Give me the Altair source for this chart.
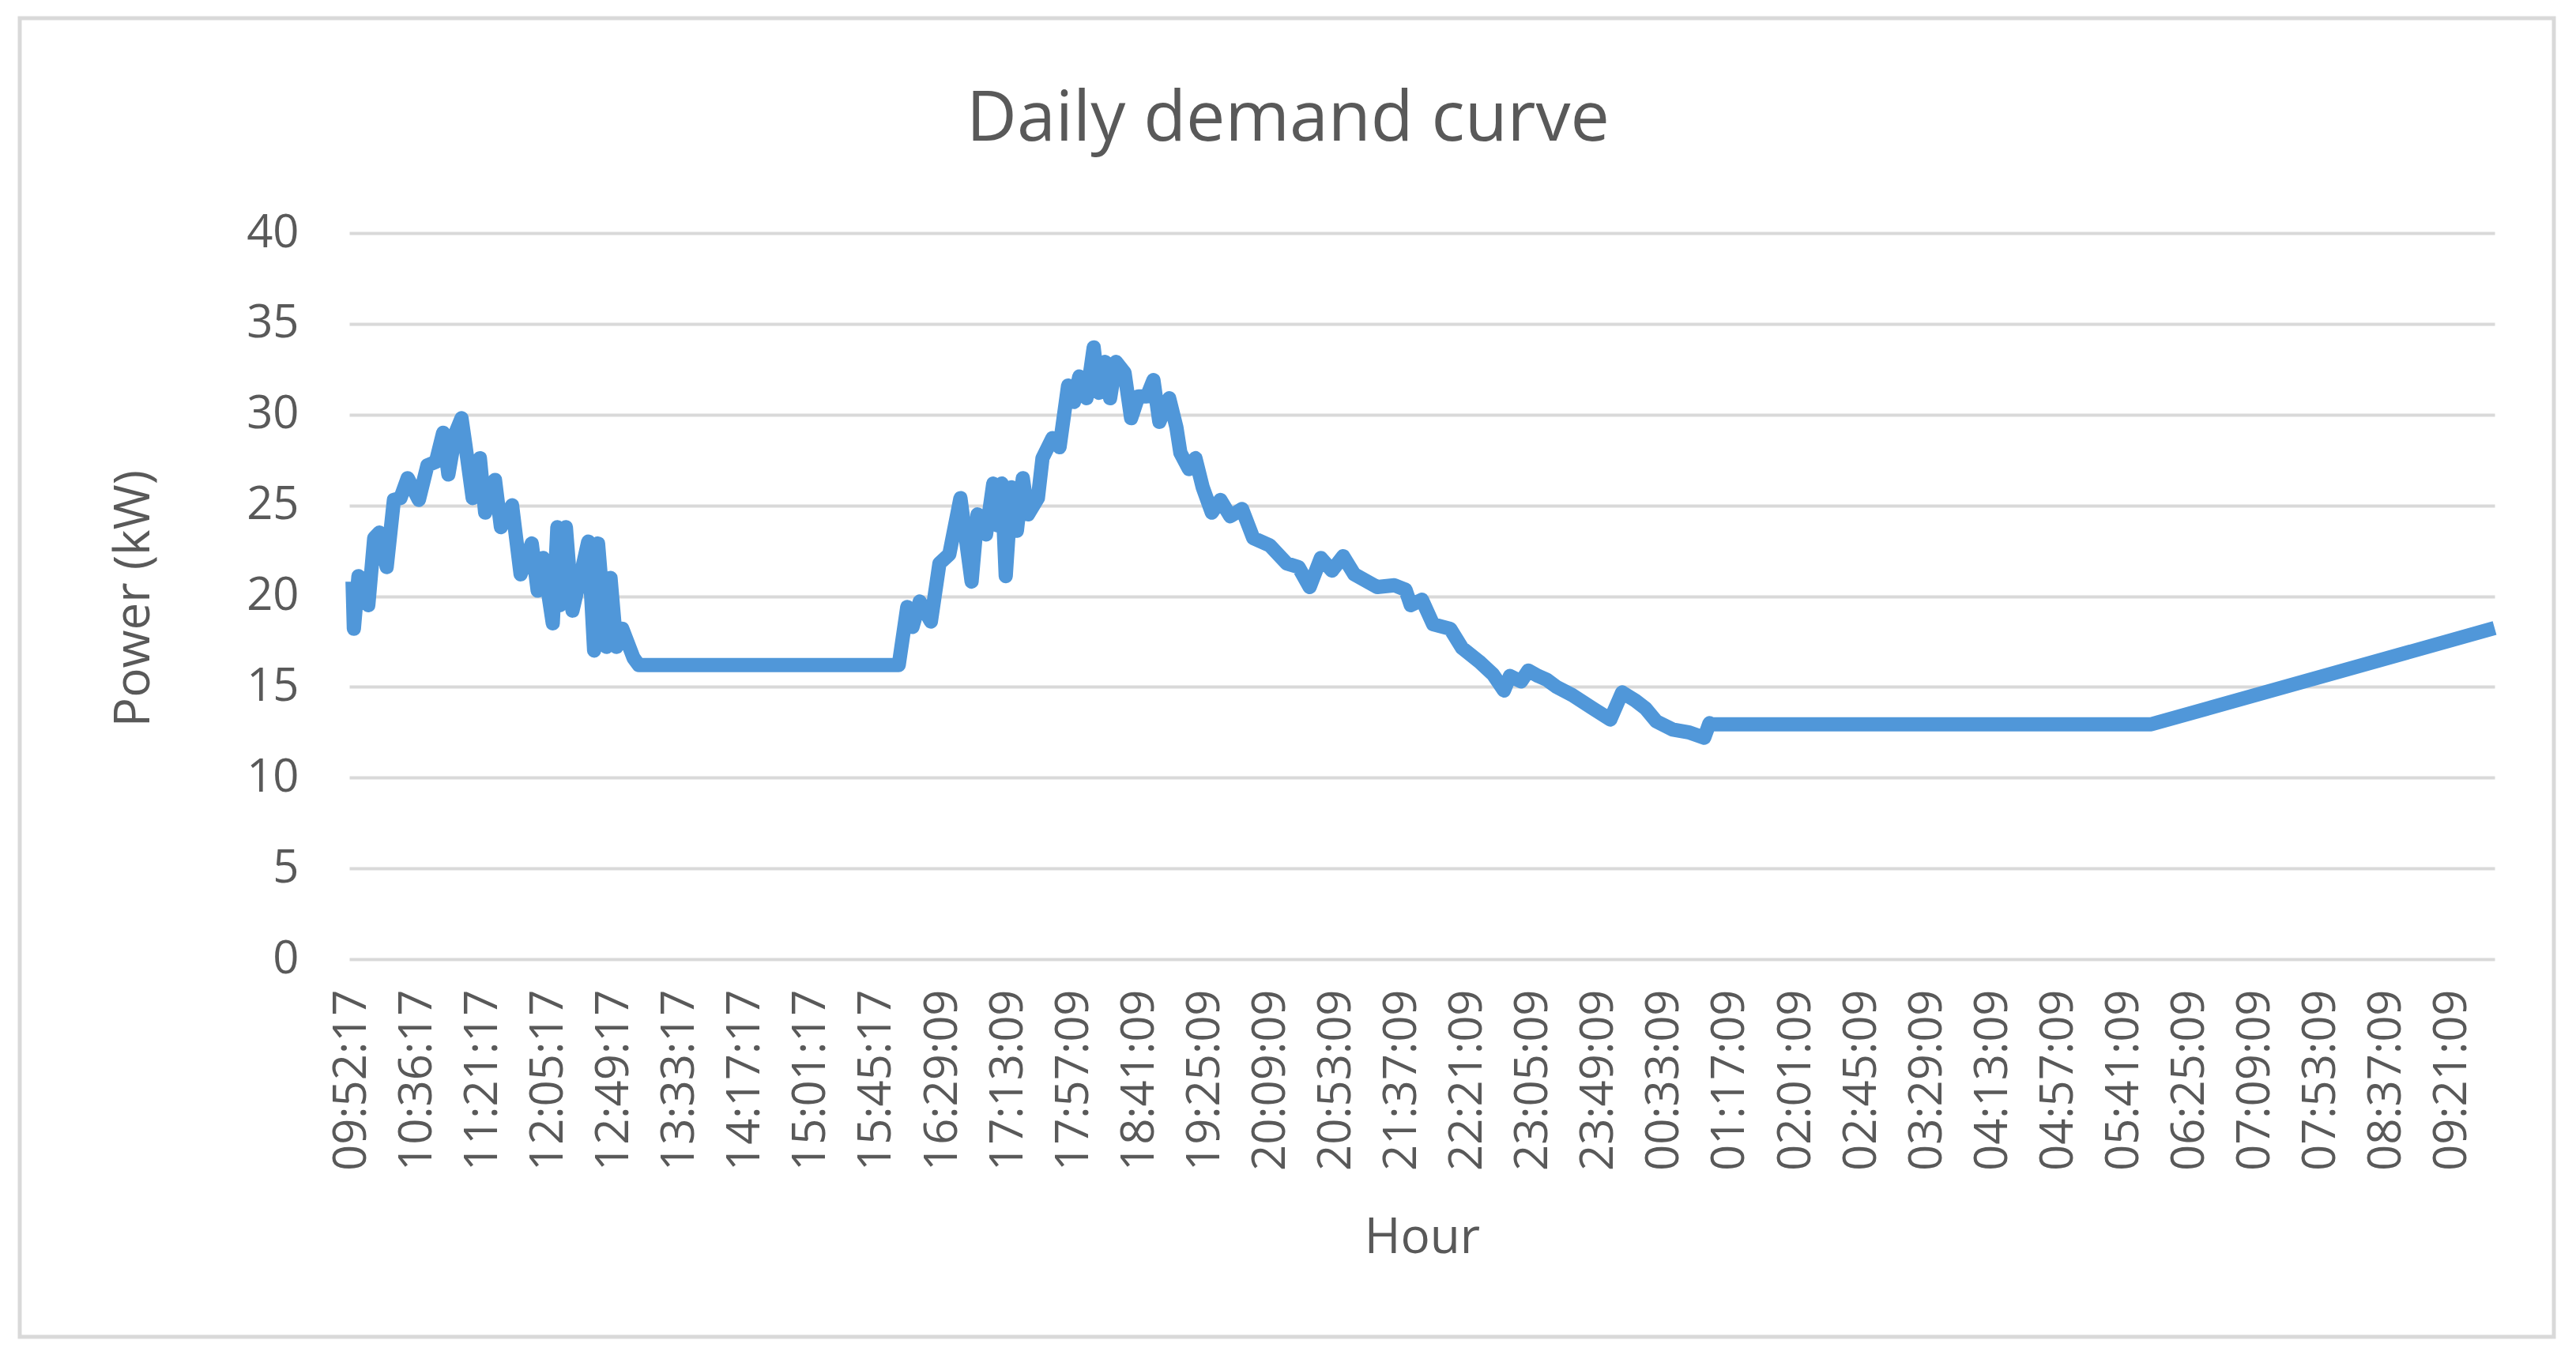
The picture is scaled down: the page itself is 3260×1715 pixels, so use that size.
import altair as alt
import pandas as pd

chart_title = "Daily demand curve"
x_title = "Hour"
y_title = "Power (kW)"

hour_labels = [
    "09:52:17", "10:36:17", "11:21:17", "12:05:17", "12:49:17", "13:33:17",
    "14:17:17", "15:01:17", "15:45:17", "16:29:09", "17:13:09", "17:57:09",
    "18:41:09", "19:25:09", "20:09:09", "20:53:09", "21:37:09", "22:21:09",
    "23:05:09", "23:49:09", "00:33:09", "01:17:09", "02:01:09", "02:45:09",
    "03:29:09", "04:13:09", "04:57:09", "05:41:09", "06:25:09", "07:09:09",
    "07:53:09", "08:37:09", "09:21:09",
]

# position along the category axis, in units of labelled ticks
position = [
    0.01, 0.03, 0.10, 0.17, 0.25, 0.34, 0.42, 0.53, 0.64, 0.74, 0.85, 1.02,
    1.15, 1.28, 1.39, 1.47, 1.58, 1.67, 1.73, 1.84, 1.95, 2.03, 2.18, 2.27,
    2.44, 2.57, 2.74, 2.83, 2.91, 3.06, 3.13, 3.17, 3.26, 3.36, 3.47, 3.60,
    3.69, 3.75, 3.88, 3.94, 4.03, 4.12, 4.29, 4.37,
    8.33, 8.46, 8.54, 8.65, 8.82, 8.95, 9.10, 9.27, 9.44, 9.53, 9.66, 9.77,
    9.83, 9.90, 9.96, 10.05, 10.13, 10.22, 10.30, 10.45, 10.52, 10.67, 10.78,
    10.91, 11.00, 11.08, 11.19, 11.30, 11.38, 11.47, 11.55, 11.64, 11.77,
    11.87, 11.98, 12.11, 12.21, 12.30, 12.45, 12.56, 12.62, 12.75, 12.85,
    12.96, 13.10, 13.23, 13.38, 13.56, 13.73, 13.98, 14.24, 14.42, 14.59,
    14.76, 14.93, 15.10, 15.27, 15.62, 15.88, 16.05, 16.13, 16.30, 16.47,
    16.73, 16.91, 17.17, 17.38, 17.55, 17.64, 17.81, 17.92, 18.07, 18.20,
    18.35, 18.59, 18.91, 19.17, 19.35, 19.55, 19.71, 19.87, 20.12, 20.36,
    20.60, 20.68, 20.72, 27.41, 32.64,
]

power_kw = [
    20.8, 18.2, 21.1, 20.9, 19.5, 23.2, 23.5, 21.6, 25.3, 25.4, 26.5, 25.3,
    27.2, 27.4, 29.0, 26.7, 29.0, 29.8, 28.3, 25.4, 27.6, 24.6, 26.4, 23.8,
    25.0, 21.2, 22.9, 20.3, 22.1, 18.5, 23.8, 19.5, 23.8, 19.2, 20.9, 23.0,
    17.0, 22.9, 17.2, 21.0, 17.2, 18.2, 16.6, 16.2,
    16.2, 19.4, 18.3, 19.7, 18.6, 21.8, 22.3, 25.4, 20.8, 24.5, 23.4, 26.2,
    23.9, 26.2, 21.1, 26.0, 23.6, 26.5, 24.5, 25.4, 27.6, 28.7, 28.2,
    31.6, 30.7, 32.1, 30.9, 33.7, 31.2, 32.9, 30.9, 32.9, 32.3,
    29.8, 31.0, 31.0, 31.9, 29.6, 30.9, 29.3, 27.9, 27.0, 27.6,
    26.0, 24.6, 25.3, 24.4, 24.8, 23.2, 22.8, 21.8, 21.6, 20.5,
    22.1, 21.4, 22.2, 21.2, 20.5, 20.6, 20.35, 19.5, 19.8, 18.45,
    18.2, 17.15, 16.4, 15.7, 14.8, 15.6, 15.3, 15.9, 15.6, 15.4,
    15.0, 14.55, 13.8, 13.2, 14.7, 14.25, 13.8, 13.1, 12.65, 12.5,
    12.2, 13.0, 12.94, 12.94, 18.24,
]

y_ticks = [0, 5, 10, 15, 20, 25, 30, 35, 40]

df = pd.DataFrame({"pos": position, "power": power_kw})

label_expr = "[" + ",".join("'" + s + "'" for s in hour_labels) + "][datum.value]"

W, H = 2715, 919
TEXT = "#595959"
GRID = "#D9D9D9"
FONT = "Open Sans"

line = alt.Chart(df).mark_line(
    color="#5097D9", strokeWidth=18, strokeJoin="round", strokeCap="butt"
).encode(
    x=alt.X(
        "pos:Q",
        scale=alt.Scale(domain=[-0.04, 32.64], nice=False, zero=False),
        axis=alt.Axis(
            values=list(range(len(hour_labels))),
            labelExpr=label_expr,
            labelAngle=270,
            labelFont=FONT,
            labelFontSize=58,
            labelColor=TEXT,
            labelPadding=38,
            labelLimit=1000,
            ticks=False,
            tickSize=0,
            domain=False,
            grid=False,
            labelOverlap=False,
            labelFlush=False,
            labelBound=False,
            title=x_title,
            titleFont=FONT,
            titleFontSize=62,
            titleFontWeight="normal",
            titleColor=TEXT,
            titleX=W / 2,
            titleY=371,
            titleAngle=0,
            titleAlign="center",
            titleBaseline="alphabetic",
        ),
    ),
    y=alt.Y(
        "power:Q",
        scale=alt.Scale(domain=[0, 40], nice=False),
        axis=alt.Axis(
            values=y_ticks,
            labelFont=FONT,
            labelFontSize=58,
            labelColor=TEXT,
            labelPadding=64,
            ticks=False,
            tickSize=0,
            domain=False,
            grid=True,
            gridColor=GRID,
            gridWidth=4,
            title=y_title,
            titleFont=FONT,
            titleFontSize=62,
            titleFontWeight="normal",
            titleColor=TEXT,
            titleX=-254,
            titleY=462,
            titleAngle=270,
            titleAlign="center",
            titleBaseline="alphabetic",
        ),
    ),
)

title = alt.Chart(pd.DataFrame({"t": [chart_title]})).mark_text(
    font=FONT, fontSize=88, color=TEXT, align="center", baseline="alphabetic"
).encode(x=alt.value(1188), y=alt.value(-117), text="t:N")

border = alt.Chart(pd.DataFrame({"k": [0]})).mark_rect(
    fillOpacity=0, stroke=GRID, strokeWidth=5
).encode(x=alt.value(-417), x2=alt.value(2790), y=alt.value(-272), y2=alt.value(1397))

chart = alt.layer(border, title, line).properties(
    width=W,
    height=H,
    autosize=alt.AutoSizeParams(type="none"),
    padding={"left": 434, "top": 287, "right": 80, "bottom": 490},
    background="white",
).configure_view(stroke=None)

chart.save("out.html", embed_options={"renderer": "svg", "actions": False})
